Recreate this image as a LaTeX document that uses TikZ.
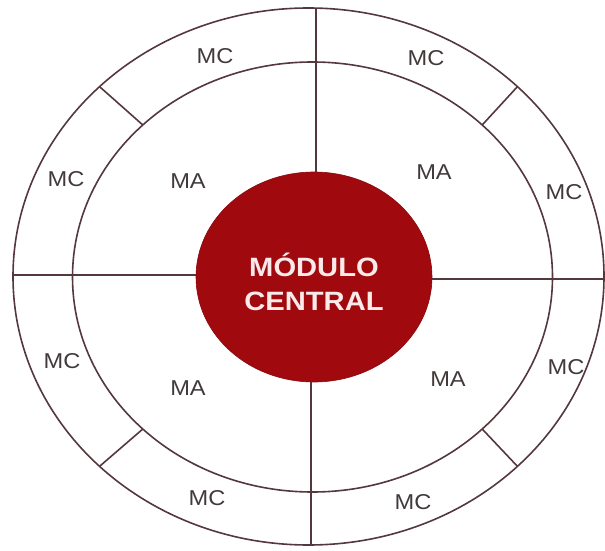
\documentclass[tikz,border=0pt]{standalone}
\usepackage{fontspec}
\setmainfont{Liberation Sans}
\newfontfamily\lblfont[FakeStretch=1.1]{Liberation Sans}
\usetikzlibrary{shapes.geometric}
\definecolor{ringcol}{RGB}{84,56,62}
\definecolor{modred}{RGB}{160,10,14}
\definecolor{lblcol}{RGB}{66,58,58}
\definecolor{modtxtcol}{RGB}{250,234,234}
\tikzset{
divline/.style={
  draw=ringcol,
  line width=1.6pt
  },
mclabel/.style={
  text=lblcol,
  font=\lblfont\fontsize{21.5}{24}\selectfont,
  inner sep=0pt
  },
modcircle/.style={
  ellipse,
  fill=modred,
  draw=modred!85!black,
  line width=0.6pt,
  minimum width=236pt,
  minimum height=210pt,
  inner sep=0pt
  },
modlabel/.style={
  text=modtxtcol,
  font=\lblfont\bfseries\fontsize{26.5}{34}\selectfont,
  align=center,
  inner sep=0pt
  }
}

\begin{document}
\begin{tikzpicture}[x=1pt,y=1pt]
\useasboundingbox (0,0) rectangle (605,550);

\coordinate (ocen) at (308.5,273.5);
\coordinate (icen) at (312.5,273);

% the two rings
\draw[divline] (ocen) ellipse [x radius=295.5, y radius=268.5];
\draw[divline] (icen) ellipse [x radius=240, y radius=215];

\node[modcircle] (modulo) at (314,273) {};

\coordinate (otop) at (316,542);
\coordinate (obot) at (311,5);
\coordinate (olft) at (13,275);
\coordinate (orgt) at (604,271);

\draw[divline] (otop) -- (otop |- modulo.north);
\draw[divline] (obot) -- (obot |- modulo.south);
\draw[divline] (olft) -- (olft -| modulo.west);
\draw[divline] (orgt) -- (orgt -| modulo.east);

% cuts in the outer ring
\foreach \ang in {45,135,225,315}
  \draw[divline] ([shift={(\ang:240 and 215)}]icen) -- ([shift={(\ang:295.5 and 268.5)}]ocen);

\node[modlabel] (modtxt) at ([yshift=-5pt]modulo.center) {MÓDULO\\CENTRAL};

\node[mclabel] (ma1) at (188,369) {MA};
\node[mclabel] (ma2) at (434,378) {MA};
\node[mclabel] (ma3) at (188,162) {MA};
\node[mclabel] (ma4) at (448,171) {MA};

\node[mclabel] (mc1) at (215,494) {MC};
\node[mclabel] (mc2) at (426,492) {MC};
\node[mclabel] (mc3) at (66,371) {MC};
\node[mclabel] (mc4) at (564,358) {MC};
\node[mclabel] (mc5) at (62,189) {MC};
\node[mclabel] (mc6) at (566,183) {MC};
\node[mclabel] (mc7) at (207,52) {MC};
\node[mclabel] (mc8) at (413,48) {MC};
\end{tikzpicture}
\end{document}
